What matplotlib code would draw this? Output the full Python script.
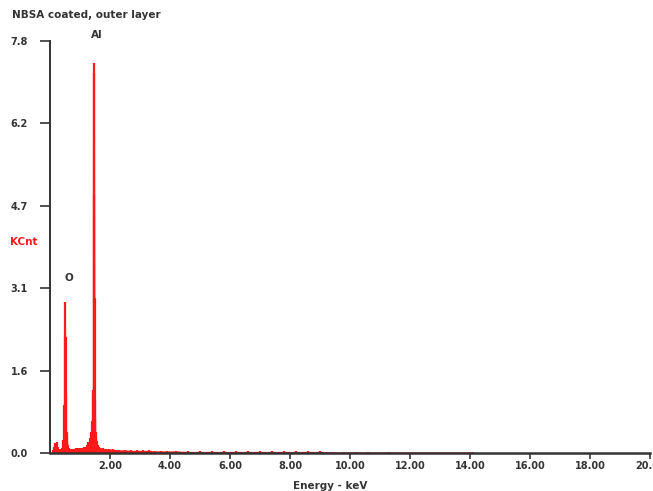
import matplotlib
matplotlib.use("Agg")
import matplotlib.pyplot as plt

# EDS spectrum (keV, KCnt)
energy = [0.10, 0.14, 0.18, 0.22, 0.25, 0.28, 0.32, 0.36, 0.40, 0.44, 0.47,
          0.49, 0.51, 0.52, 0.53, 0.55, 0.57, 0.59, 0.62, 0.66, 0.70, 0.76,
          0.82, 0.88, 0.94, 1.00, 1.06, 1.12, 1.18, 1.24, 1.28, 1.32, 1.36,
          1.39, 1.42, 1.44, 1.46, 1.47, 1.48, 1.49, 1.50, 1.51, 1.52, 1.54,
          1.56, 1.59, 1.63, 1.68, 1.75, 1.85, 1.95, 2.10, 2.30, 2.50, 2.70,
          2.90, 3.10, 3.30, 3.50, 3.70, 3.90, 4.20, 4.60, 5.00, 5.40, 5.80,
          6.20, 6.60, 7.00, 7.40, 7.80, 8.20, 8.60, 9.00, 9.40, 9.80, 10.2,
          10.6, 11.3, 14.1]
counts = [0.05, 0.12, 0.18, 0.20, 0.12, 0.08, 0.07, 0.08, 0.10, 0.25, 0.90,
          2.20, 2.86, 2.20, 1.10, 0.40, 0.30, 0.15, 0.09, 0.07, 0.07, 0.08,
          0.08, 0.09, 0.09, 0.10, 0.10, 0.11, 0.12, 0.15, 0.20, 0.28, 0.40,
          0.60, 1.14, 1.20, 4.90, 7.39, 7.20, 2.94, 1.00, 0.60, 0.40, 0.30,
          0.22, 0.15, 0.12, 0.10, 0.09, 0.08, 0.08, 0.07, 0.06, 0.06, 0.05,
          0.05, 0.05, 0.05, 0.04, 0.04, 0.04, 0.04, 0.03, 0.03, 0.03, 0.03,
          0.03, 0.03, 0.03, 0.03, 0.03, 0.03, 0.03, 0.03, 0.02, 0.02, 0.02,
          0.02, 0.02, 0.02]
yticks = [0.0, 1.56, 3.12, 4.68, 6.24, 7.8]
ylabels = ["0.0", "1.6", "3.1", "4.7", "6.2", "7.8"]
xticks = [2, 4, 6, 8, 10, 12, 14, 16, 18, 20]

fig = plt.figure(figsize=(6.53, 4.91), dpi=100)
ax = fig.add_axes([0.0766, 0.0774, 0.919, 0.839])

ax.vlines(energy, 0, counts, color="#ff1a1a", linewidth=1.6)
ax.fill_between(energy, 0, counts, color="#ff1a1a", linewidth=0)

ax.set_xlim(0, 20)
ax.set_ylim(0, 7.8)
for s in ["top", "right"]:
    ax.spines[s].set_visible(False)
ax.spines["left"].set_linewidth(1.4)
ax.spines["bottom"].set_linewidth(1.8)
ax.spines["bottom"].set_color("#333333")
ax.spines["left"].set_color("#333333")

ax.set_yticks(yticks)
ax.set_yticklabels(ylabels, fontsize=7, fontweight="bold", color="#333333")
ax.set_xticks(xticks)
ax.set_xticklabels(["%.2f" % x for x in xticks], fontsize=7,
                   fontweight="bold", color="#333333")
ax.tick_params(axis="y", direction="out", length=7, width=1.2, pad=9,
               color="#333333")
ax.tick_params(axis="x", direction="out", length=4, width=1.2, pad=2,
               color="#333333")

ax.text(0.47, 3.25, "O", fontsize=7.5, fontweight="bold", color="#333333")
ax.text(1.55, 7.85, "Al", fontsize=7.5, fontweight="bold", color="#333333",
        ha="center")

fig.text(12 / 653, 1 - 10 / 491, "NBSA coated, outer layer", fontsize=7.5,
         fontweight="bold", color="#333333", va="top")
fig.text(10 / 653, 1 - 242 / 491, "KCnt", fontsize=7.5, fontweight="bold",
         color="#ff1a1a", va="center")
fig.text(330 / 653, 10 / 491, "Energy - keV", fontsize=7.5,
         fontweight="bold", color="#333333", va="top", ha="center")

fig.savefig("out.png", dpi=100)
